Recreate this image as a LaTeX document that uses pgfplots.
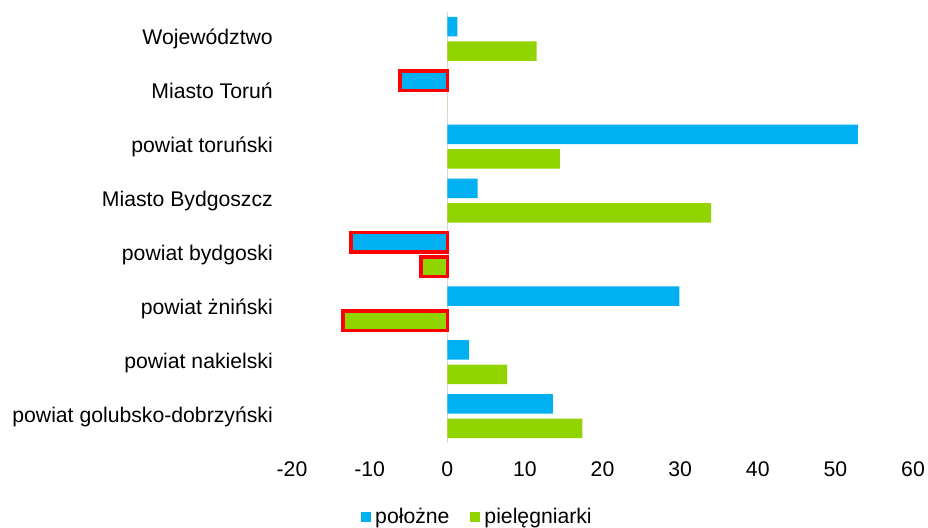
\documentclass[border=0pt]{standalone}
\usepackage{fontspec}
\setmainfont{Liberation Sans}
\usepackage{pgfplots}
\pgfplotsset{compat=1.18}
\definecolor{cblue}{HTML}{00B0F0}
\definecolor{cgreen}{HTML}{92D400}
\definecolor{zgray}{HTML}{D9D9D9}
\begin{document}
\begin{tikzpicture}
\path[use as bounding box] (0,0) rectangle (928bp,528bp);
\begin{axis}[
  at={(292bp,85bp)}, anchor=south west,
  scale only axis, width=621bp, height=431bp,
  xbar, bar width=19.5bp,
  enlargelimits=false,
  xmin=-20, xmax=60, ymin=0.5, ymax=8.5,
  xtick={-20,-10,...,60}, ytick={1,...,8},
  yticklabels={powiat golubsko-dobrzyński, powiat nakielski, powiat żniński, powiat bydgoski, Miasto Bydgoszcz, powiat toruński, Miasto Toruń, Województwo},
  axis line style={draw=none},
  major tick length=0pt,
  tick label style={font=\fontsize{21.2bp}{25bp}\selectfont},
  /pgf/number format/assume math mode=true,
  xticklabel style={anchor=base, inner sep=0pt, yshift=-33.4bp},
  yticklabel style={anchor=base east, inner sep=0pt, xshift=-19bp, yshift=-6bp},
  extra x ticks={0}, extra x tick labels={},
  extra x tick style={grid=major, major grid style={draw=zgray, line width=1.5bp}},
  legend columns=2,
  legend style={at={(0.3003,-0.1717)}, anchor=center, draw=none, fill=none,
    inner sep=0pt, font=\fontsize{21.2bp}{25bp}\selectfont,
    nodes={inner sep=4bp},
    /tikz/every even column/.append style={column sep=17bp}},
  legend image code/.code={\fill[#1] (0bp,-5bp) rectangle (10bp,5bp);},
]
% położne (positive values)
\addplot[fill=cblue, draw=none, bar shift=12.3bp] coordinates {(1.3,8) (52.9,6) (3.9,5) (29.9,3) (2.8,2) (13.6,1)};
% pielęgniarki (positive values)
\addplot[fill=cgreen, draw=none, bar shift=-12.3bp] coordinates {(11.5,8) (0,7) (14.5,6) (34.0,5) (7.7,2) (17.4,1)};
% negative values, red outline
\addplot[fill=cblue, draw=red, line width=3.5bp, bar shift=12.3bp, forget plot] coordinates {(-6.1,7) (-12.4,4)};
\addplot[fill=cgreen, draw=red, line width=3.5bp, bar shift=-12.3bp, forget plot] coordinates {(-3.4,4) (-13.4,3)};
\legend{położne, pielęgniarki}
\end{axis}
\end{tikzpicture}
\end{document}
